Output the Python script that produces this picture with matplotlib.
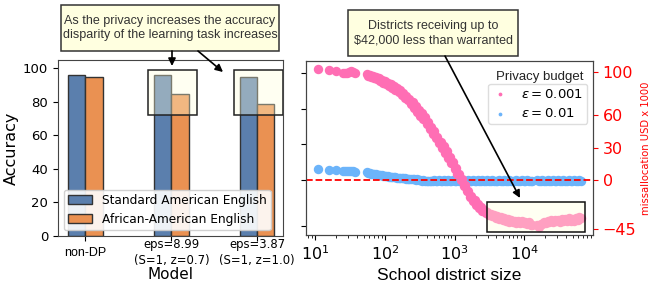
import matplotlib
matplotlib.use('Agg')
import matplotlib.pyplot as plt
import numpy as np
from matplotlib.patches import Rectangle, FancyArrowPatch

# ---------------- data ----------------
models = ['non-DP', 'eps=8.99\n(S=1, z=0.7)', 'eps=3.87\n(S=1, z=1.0)']
sae_acc = [96, 96, 95]
aae_acc = [95, 85, 79]
series_names = ['Standard American English', 'African-American English']
highlighted = [1, 2]

district_size = [
    11, 16, 20, 25, 27, 29, 31, 33, 35, 37,
    55, 58, 61, 64, 67, 70, 74, 78, 82, 86,
    90, 95, 100, 105, 110, 116, 122, 128, 135, 142,
    150, 158, 166, 175, 184, 194, 204, 215, 226, 238,
    250, 263, 277, 292, 307, 323, 340, 358, 377, 397,
    418, 440, 463, 487, 513, 540, 568, 598, 630, 663,
    698, 735, 774, 815, 858, 903, 950, 1000, 1050, 1100,
    1160, 1220, 1280, 1350, 1420, 1500, 1580, 1660, 1750, 1840,
    1940, 2040, 2150, 2260, 2380, 2500, 2650, 2800, 2950, 3100,
    3300, 3500, 3700, 3900, 4100, 4350, 4600, 4900, 5200, 5500,
    5800, 6100, 6500, 6900, 7300, 7700, 8200, 8700, 9200, 9800,
    10400, 11000, 11700, 12400, 13100, 15300, 16200, 17200, 18200, 19300,
    20500, 21700, 23000, 24400, 25800, 27400, 29000, 30700, 32600, 34500,
    36600, 38800, 41100, 43600, 46200, 49000, 51900, 55000, 58300, 61800,
    65500]

misalloc_eps_0001 = [
    103, 102, 101, 98.5, 99, 99, 99.5, 100.5, 99.5, 98.5,
    98, 96.5, 97, 95.5, 96.5, 94.5, 95, 93, 94, 91.5,
    92.5, 90, 91.5, 88.5, 90, 87, 88.5, 85.5, 87, 83.5,
    85, 81, 83, 78.5, 80.5, 76, 78, 73.5, 75, 70,
    72, 66.5, 68.5, 63, 65, 59.5, 61.5, 56, 58, 51.5,
    53.5, 47.5, 49, 43, 45, 38.5, 40, 34, 35.5, 29.5,
    31, 25, 26.5, 20.5, 21.5, 15.5, 16.5, 10.5, 11, 5.5,
    5.5, 0, 0.5, -5.5, -5, -10.5, -10, -15.5, -14.5, -19.5,
    -18.5, -23, -22, -26, -25, -28.5, -27.5, -30.5, -29.5, -32,
    -31, -33.5, -32.5, -35, -33.5, -36, -34.5, -37, -35.5, -37.5,
    -36, -38.5, -37, -39, -37.5, -39.5, -38, -40, -38, -40,
    -38.5, -40.5, -39, -41.5, -42, -42, -43.5, -41, -40.5, -38.5,
    -39.5, -37.5, -38.5, -37, -38.5, -36.5, -38, -37, -38.5, -36,
    -37.5, -36, -37.5, -35.5, -37.5, -36, -38, -35, -36.5, -34,
    -35.5]

misalloc_eps_001 = [
    10, 9, 9, 8.5, 8, 8.5, 8, 8, 8, 7.5,
    7, 6.5, 6.5, 6, 6, 5.5, 5.5, 5, 5, 4.5,
    4.5, 4, 4, 3.5, 3.5, 3, 3, 3, 2.5, 2.5,
    2, 2, 2, 1.5, 1.5, 1.5, 1, 1, 1, 0.5,
    0.5, 0.5, 0, 0.5, 0, 0, -0.5, 0, -0.5, -0.5,
    -1, -0.5, -1, -0.5, 0, -1, -0.5, 0, -1, -0.5,
    0, -1, -0.5, 0, -0.5, -1, 0, -0.5, -1, 0,
    -0.5, -1, 0, -0.5, -1, -0.5, 0, -1, -0.5, 0,
    -1, -0.5, 0, -0.5, -1, 0, -0.5, -1, 0, -0.5,
    -1, 0, -0.5, -1, -0.5, 0, -1, -0.5, 0, -0.5,
    -1, 0, -0.5, -1, -0.5, 0, -1, -0.5, 0, -0.5,
    -1, 0, -0.5, -1, -0.5, 0, -0.5, -1, 0, -0.5,
    -1, 0, -0.5, -1, 0, -0.5, -1, 0, -0.5, -1,
    0, -0.5, -1, 0, -0.5, -1, 0, -0.5, -1, 0,
    -0.5]

budget_labels = [r'$\varepsilon = 0.001$', r'$\varepsilon = 0.01$']
right_ticks = [-45, 0, 30, 60, 100]
left_ticks_unlabeled = [-42.5, 0, 33, 66, 99]

# ---------------- layout helpers ----------------
W, H = 652, 285
fig = plt.figure(figsize=(W / 100, H / 100), dpi=100)


def fx(px):
    return px / W


def fy(py):
    return 1 - py / H


BLUE_BAR = '#5b7fad'
ORANGE_BAR = '#ea9152'
PINK = '#ff6eb4'
LBLUE = '#6cb4fa'
BOX_FACE = (1.0, 1.0, 0.86, 0.35)
SPINE = '#444444'
MS = 46

# ---------------- left panel ----------------
axL = fig.add_axes([fx(58), fy(236), fx(283) - fx(58), (236 - 60) / H])
x = np.arange(len(models))
w = 0.2
axL.bar(x - w / 2, sae_acc, w, color=BLUE_BAR, edgecolor='#333333', lw=1,
        label=series_names[0], zorder=2)
axL.bar(x + w / 2, aae_acc, w, color=ORANGE_BAR, edgecolor='#333333', lw=1,
        label=series_names[1], zorder=2)
axL.set_xlim(-0.32, 2.30)
axL.set_ylim(0, 105)
axL.set_yticks([0, 20, 40, 60, 80, 100])
axL.tick_params(axis='y', labelsize=9.5)
axL.set_xticks(x, models)
axL.tick_params(axis='x', labelsize=8.4, pad=8.5)
for lab in axL.get_xticklabels():
    lab.set_va('center')
    lab.set_linespacing(1.3)
axL.get_xticklabels()[0].set_family('Liberation Sans')
axL.get_xticklabels()[0].set_fontsize(9)
axL.set_ylabel('Accuracy', fontsize=11.5, labelpad=3)
axL.set_xlabel('Model', fontsize=11, labelpad=0)
for s in axL.spines.values():
    s.set_color(SPINE)

for i in highlighted:
    axL.add_patch(Rectangle((i - 0.27, 72), 0.57, 27.2, facecolor=BOX_FACE,
                            edgecolor='#222222', lw=1.1, zorder=3))

legL = axL.legend(loc='lower left', bbox_to_anchor=(0.015, 0.02), fontsize=8.7,
                  framealpha=0.9, edgecolor='#cccccc', borderaxespad=0.2,
                  handlelength=2.0, borderpad=0.35)
legL.set_zorder(5)

# ---------------- right panel ----------------
axR = fig.add_axes([fx(306), fy(235), fx(593) - fx(306), (235 - 61) / H])
axR.set_xscale('log')
axR.scatter(district_size, misalloc_eps_001, s=MS, color=LBLUE, linewidths=0,
            label=budget_labels[1], zorder=2)
axR.axhline(0, color='red', ls='--', lw=1.3, zorder=2.5)
axR.scatter(district_size, misalloc_eps_0001, s=MS, color=PINK, linewidths=0,
            label=budget_labels[0], zorder=2.6)
axR.set_xlim(7.4, 97000)
axR.set_ylim(-50.8, 110)
axR.set_yticks(left_ticks_unlabeled)
axR.set_yticklabels([])
axR.tick_params(axis='x', labelsize=11.5)
axR.set_xlabel('School district size', fontsize=12.5,
               family='Liberation Sans', labelpad=3)
for s in axR.spines.values():
    s.set_color(SPINE)

axR.add_patch(Rectangle((2880, -47.7), 74000 - 2880, 27.7, facecolor=BOX_FACE,
                        edgecolor='#111111', lw=1.1, zorder=3))

handles, labels = axR.get_legend_handles_labels()
legR = axR.legend(handles[::-1], labels[::-1], loc='upper right',
                  bbox_to_anchor=(0.98, 0.87), fontsize=9.5, markerscale=0.4,
                  edgecolor='#dddddd', framealpha=1.0, borderaxespad=0.0,
                  handlelength=1.2, handletextpad=1.0, borderpad=0.3)
legR.set_zorder(5)

ax2 = axR.twinx()
ax2.set_ylim(axR.get_ylim())
ax2.set_yticks(right_ticks)
ax2.tick_params(axis='y', colors='red', labelsize=11.5)
ax2.set_ylabel('missallocation USD x 1000', color='red', fontsize=7.2, labelpad=3)
for s in ax2.spines.values():
    s.set_color(SPINE)

fig.text(fx(540), fy(77), 'Privacy budget', ha='center', va='center',
         fontsize=9.5, family='Liberation Sans', color='#222222')

# ---------------- annotations ----------------
fig.add_artist(Rectangle((fx(61), fy(51)), fx(279) - fx(61), (51 - 5) / H,
                         transform=fig.transFigure, facecolor='#ffffe0',
                         edgecolor='#333333', lw=1.1))
fig.text(fx(170), fy(28),
         'As the privacy increases the accuracy\ndisparity of the learning task increases',
         ha='center', va='center', fontsize=9, family='Liberation Sans',
         color='#333333', linespacing=1.15)

fig.add_artist(Rectangle((fx(348), fy(56)), fx(518) - fx(348), (56 - 10) / H,
                         transform=fig.transFigure, facecolor='#ffffe0',
                         edgecolor='#333333', lw=1.1))
fig.text(fx(433), fy(33),
         'Districts receiving up to\n$42,000 less than warranted'.replace('$', r'\$'),
         ha='center', va='center', fontsize=9, family='Liberation Sans',
         color='#333333', linespacing=1.25)

for p0, p1 in [((172, 51), (172, 66)), ((198, 51), (223, 72)), ((445, 56), (520, 198))]:
    fig.add_artist(FancyArrowPatch((fx(p0[0]), fy(p0[1])), (fx(p1[0]), fy(p1[1])),
                                   transform=fig.transFigure, arrowstyle='-|>',
                                   mutation_scale=11, lw=1.2, color='black',
                                   shrinkA=0, shrinkB=0))

fig.savefig('out.png', dpi=100)
